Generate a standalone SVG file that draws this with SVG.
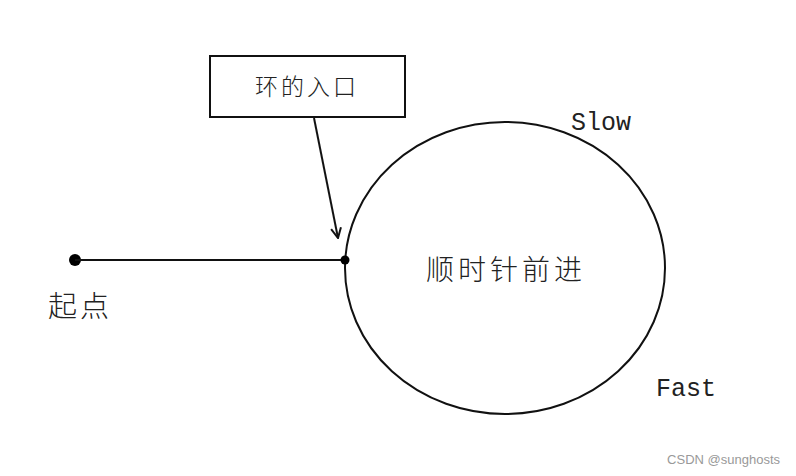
<svg xmlns="http://www.w3.org/2000/svg" width="796" height="476" viewBox="0 0 796 476">
<defs>
<style>
.cjk{font-family:"Noto Sans CJK SC",sans-serif;fill:#222;font-weight:300}
.mono{font-family:"Liberation Mono","DejaVu Sans Mono",monospace;fill:#222}
.ln{stroke:#111;stroke-width:2;fill:none}
</style>
<marker id="open" viewBox="0 0 12 12" refX="11" refY="6" markerWidth="12" markerHeight="12" markerUnits="userSpaceOnUse" orient="auto">
<path d="M1,1 L11,6 L1,11" fill="none" stroke="#111" stroke-width="2"/>
</marker>
</defs>
<rect width="796" height="476" fill="#fff"/>
<g id="entry-box">
<rect x="210" y="56" width="195" height="61" fill="#fff" stroke="#111" stroke-width="2"/>
<text class="cjk" x="307" y="95" font-size="23" text-anchor="middle" letter-spacing="3">环的入口</text>
</g>
<g id="loop">
<ellipse cx="505" cy="268" rx="160" ry="146" fill="#fff" stroke="#111" stroke-width="2"/>
<text class="cjk" x="506" y="280" font-size="28" text-anchor="middle" letter-spacing="4">顺时针前进</text>
</g>
<g id="start">
<circle cx="75" cy="260" r="6" fill="#000"/>
<text class="cjk" x="80" y="317" font-size="29" text-anchor="middle" letter-spacing="3">起点</text>
</g>
<g id="slow-label"><text class="mono" x="571" y="130" font-size="25">Slow</text></g>
<g id="fast-label"><text class="mono" x="656" y="396" font-size="25">Fast</text></g>
<g id="connectors">
<line class="ln" x1="75" y1="260" x2="345" y2="260"/>
<circle cx="345" cy="260" r="4.5" fill="#000"/>
<line class="ln" x1="314" y1="118" x2="338" y2="238" marker-end="url(#open)"/>
</g>
<text x="780" y="464" font-family="Liberation Sans,Arial,sans-serif" font-size="13" fill="#999" text-anchor="end">CSDN @sunghosts</text>
</svg>
